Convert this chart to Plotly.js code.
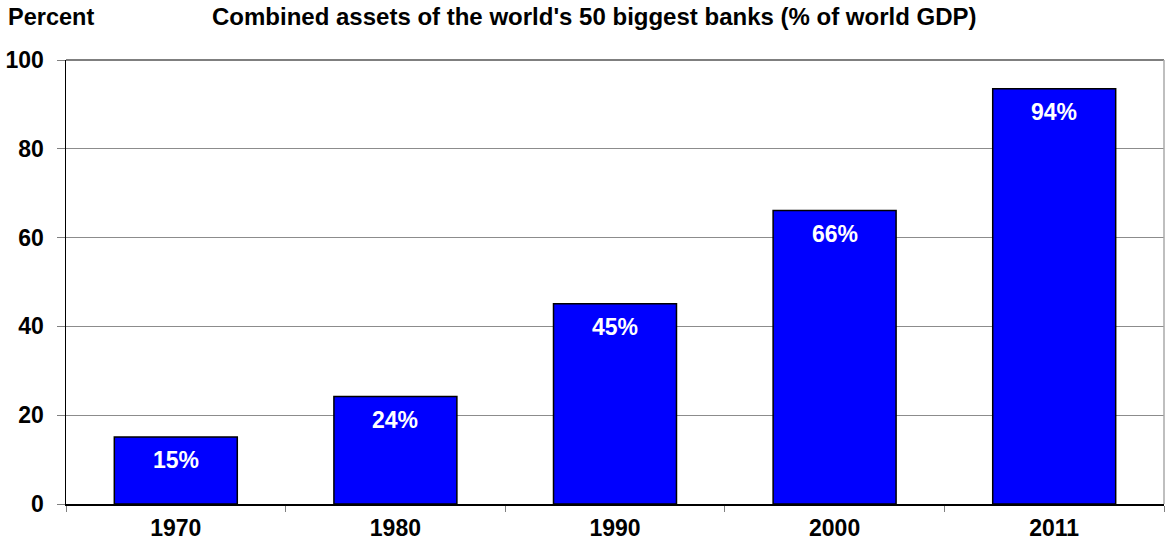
<!DOCTYPE html>
<html><head><meta charset="utf-8">
<script src="https://cdn.plot.ly/plotly-3.0.1.min.js"></script>
<style>body{margin:0;background:#fff}#c{width:1166px;height:540px}</style>
</head><body><div id="c"></div>
<script>
const years = ['1970','1980','1990','2000','2011'];
const values = [15.1, 24.2, 45.1, 66.1, 93.5];
const labels = ['15%','24%','45%','66%','94%'];

const F = 'Liberation Sans, Arial, sans-serif';
const trace = {
  type:'bar', x:years, y:values, width:0.56,
  marker:{color:'#0000FF', line:{color:'#000', width:1.5}},
  hoverinfo:'skip'
};
const annotations = years.map((y,i)=>({
  x:i, y:values[i], xref:'x', yref:'y', text:'<b>'+labels[i]+'</b>',
  showarrow:false, yanchor:'top', yshift:-8,
  font:{family:F, size:23, color:'#fff'}
}));
annotations.push({xref:'paper', yref:'paper', x:-0.055, y:1, xanchor:'left', yanchor:'bottom', yshift:28,
  text:'<b>Percent</b>', showarrow:false, font:{family:F, size:23.5, color:'#000'}});
annotations.push({xref:'paper', yref:'paper', x:0.4805, y:1, xanchor:'center', yanchor:'bottom', yshift:28,
  text:"<b>Combined assets of the world's 50 biggest banks (% of world GDP)</b>", showarrow:false, font:{family:F, size:24, color:'#000'}});

const layout = {
  width:1166, height:540,
  margin:{l:66, r:2, t:60, b:36},
  paper_bgcolor:'#fff', plot_bgcolor:'#fff',
  showlegend:false,
  xaxis:{type:'category', range:[-0.5,4.5], showgrid:false, showline:true, linecolor:'#000', linewidth:1.5,
    ticks:'outside', ticklen:6, tickcolor:'#808080', tickson:'boundaries',
    tickfont:{family:F, size:23, color:'#000'}, ticklabelstandoff:3, fixedrange:true,
    tickprefix:'<b>', ticksuffix:'</b>'},
  yaxis:{range:[0,100], dtick:20, showgrid:true, gridcolor:'#8c8c8c', gridwidth:1,
    showline:true, linecolor:'#000', linewidth:1.5, ticks:'outside', ticklen:8, tickcolor:'#808080',
    tickfont:{family:F, size:23, color:'#000'}, zeroline:false, ticklabelstandoff:8,
    tickprefix:'<b>', ticksuffix:'</b>'},
  shapes:[
    {type:'line', xref:'paper', yref:'paper', x0:0, x1:1, y0:1, y1:1, line:{color:'#555', width:1.5}},
    {type:'line', xref:'paper', yref:'paper', x0:1, x1:1, y0:0, y1:1, line:{color:'#aaa', width:1.5}}
  ],
  annotations:annotations,
  bargap:0.44
};
Plotly.newPlot('c',[trace],layout,{displayModeBar:false, staticPlot:true});
</script></body></html>
